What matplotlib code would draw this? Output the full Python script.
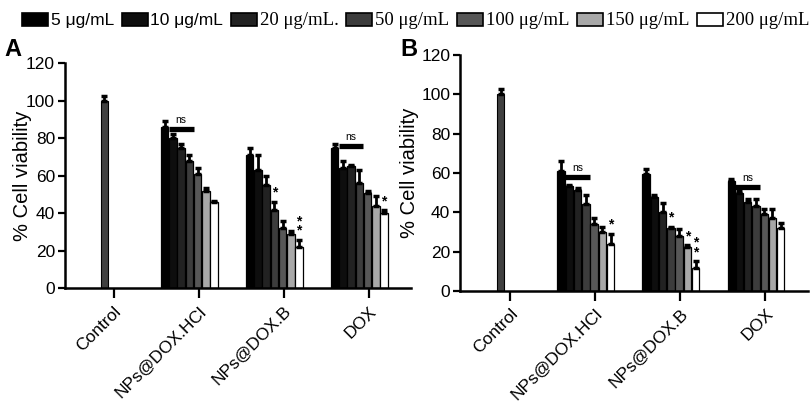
import matplotlib
matplotlib.use("Agg")
import matplotlib.pyplot as plt
from matplotlib.transforms import ScaledTranslation

plt.rcParams['font.family'] = ['Liberation Sans', 'DejaVu Sans']

groups = ["Control", "NPs@DOX.HCl", "NPs@DOX.B", "DOX"]
doses = ["5 \u03bcg/mL", "10 \u03bcg/mL", "20 \u03bcg/mL.", "50 \u03bcg/mL",
         "100 \u03bcg/mL", "150 \u03bcg/mL", "200 \u03bcg/mL"]
dose_colors = ["#000000", "#0e0e0e", "#222222", "#3c3c3c", "#575757", "#a8a8a8", "#ffffff"]

# Panel A values (rows = treatment, columns = dose)
control_a = 100
control_a_err = 2.5
mean_a = [
    [86, 80, 75, 68, 61, 52, 46],
    [71, 63, 55, 42, 32, 29, 22],
    [75, 64, 65, 56, 51, 44, 40],
]
err_a = [
    [3, 2, 2, 3, 3, 1.5, 0.6],
    [4, 8, 5, 4, 4, 1.5, 4],
    [2, 4, 1, 7, 1, 5, 1.5],
]

# Panel B values
control_b = 100
control_b_err = 2.5
mean_b = [
    [61, 53.5, 51.5, 44, 34, 30, 24],
    [59.5, 48, 40, 32, 28, 22.5, 11.5],
    [56, 50, 45, 43, 39, 37, 32],
]
err_b = [
    [5, 0.6, 0.6, 5, 3, 2.5, 5],
    [2.5, 1, 4.5, 0.6, 3.5, 0.6, 3.5],
    [1, 0.6, 1.5, 3.5, 2.5, 4.5, 2.5],
]

# significance marks: (group, dose index, label)
stars_a = [(2, 3, "*"), (2, 6, "*\n*"), (3, 6, "*")]
stars_b = [(1, 6, "*"), (2, 3, "*"), (2, 5, "*"), (2, 6, "*\n*")]
# ns lines: (group, height)
ns_a = [(1, 85), (3, 76)]
ns_b = [(1, 58), (3, 53)]

width = 0.097
offset = -0.11


def bar_x(g, i):
    return g + offset + (i - 3) * width


def draw_panel(ax, control, control_err, means, errs, stars, ns_lines, label_x):
    ekw = dict(elinewidth=2, capthick=2.5, capsize=2.5, ecolor="black")
    ax.bar(offset, control, width * 0.85, color="#404040", edgecolor="black", lw=0.8,
           yerr=[[0], [control_err]], error_kw=ekw)
    handles = []
    for i in range(7):
        xs = [bar_x(g, i) for g in (1, 2, 3)]
        vals = [means[g - 1][i] for g in (1, 2, 3)]
        es = [errs[g - 1][i] for g in (1, 2, 3)]
        h = ax.bar(xs, vals, width * 0.9, color=dose_colors[i], edgecolor="black", lw=0.9,
                   yerr=[[0, 0, 0], es], error_kw=ekw, label=doses[i])
        handles.append(h)
    for g, i, s in stars:
        top = means[g - 1][i] + errs[g - 1][i]
        ax.text(bar_x(g, i), top + 1.2, s, ha="center", va="bottom",
                fontsize=10, fontweight="bold", linespacing=0.55)
    for g, y in ns_lines:
        x0 = bar_x(g, 1) - width / 2
        x1 = bar_x(g, 3) + width / 2
        ax.plot([x0, x1], [y, y], color="black", lw=3.8, solid_capstyle="butt")
        ax.text((x0 + x1) / 2, y + 2, "ns", ha="center", va="bottom", fontsize=7.5)

    ax.set_ylim(0, 120)
    ax.set_yticks(range(0, 121, 20))
    ax.set_xticks(range(4))
    ax.set_xticklabels(groups, rotation=45, ha="right", rotation_mode="anchor", fontsize=12.5)
    shift = ScaledTranslation(0.07, -0.06, fig.dpi_scale_trans)
    for t in ax.get_xticklabels():
        t.set_transform(t.get_transform() + shift)
    ax.set_ylabel("% Cell viability", fontsize=14.5)
    ax.yaxis.set_label_coords(label_x, 0.5)
    ax.tick_params(axis="y", labelsize=12.5, width=1.6, length=5, direction="out", pad=2)
    ax.tick_params(axis="x", width=1.6, length=7, direction="out", pad=4)
    for side in ("top", "right"):
        ax.spines[side].set_visible(False)
    ax.spines["left"].set_linewidth(1.8)
    ax.spines["bottom"].set_linewidth(1.8)
    ax.spines["left"].set_bounds(0, 120)
    return handles


fig = plt.figure(figsize=(8.1, 4.05), dpi=100)
ax_a = fig.add_axes([0.080, 0.288, 0.427, 0.556])
ax_b = fig.add_axes([0.568, 0.282, 0.430, 0.582])

handles = draw_panel(ax_a, control_a, control_a_err, mean_a, err_a, stars_a, ns_a, -0.095)
draw_panel(ax_b, control_b, control_b_err, mean_b, err_b, stars_b, ns_b, -0.118)
ax_a.set_xlim(-0.576, 3.494)
ax_b.set_xlim(-0.588, 3.506)

leg = fig.legend(handles, doses, loc="upper center", bbox_to_anchor=(0.513, 0.995), ncol=7,
                 frameon=False, fontsize=12.5, handlelength=1.5, handleheight=0.75,
                 handletextpad=0.15, columnspacing=0.45, borderaxespad=0.2)
for t in leg.get_texts()[2:]:
    t.set_fontfamily("Liberation Serif")
    t.set_fontsize(13.5)
for p in leg.get_patches():
    p.set_linewidth(1.2)

fig.text(0.006, 0.877, "A", fontsize=17, fontweight="bold", va="center")
fig.text(0.494, 0.877, "B", fontsize=17, fontweight="bold", va="center")

fig.savefig("out.png", dpi=100)
